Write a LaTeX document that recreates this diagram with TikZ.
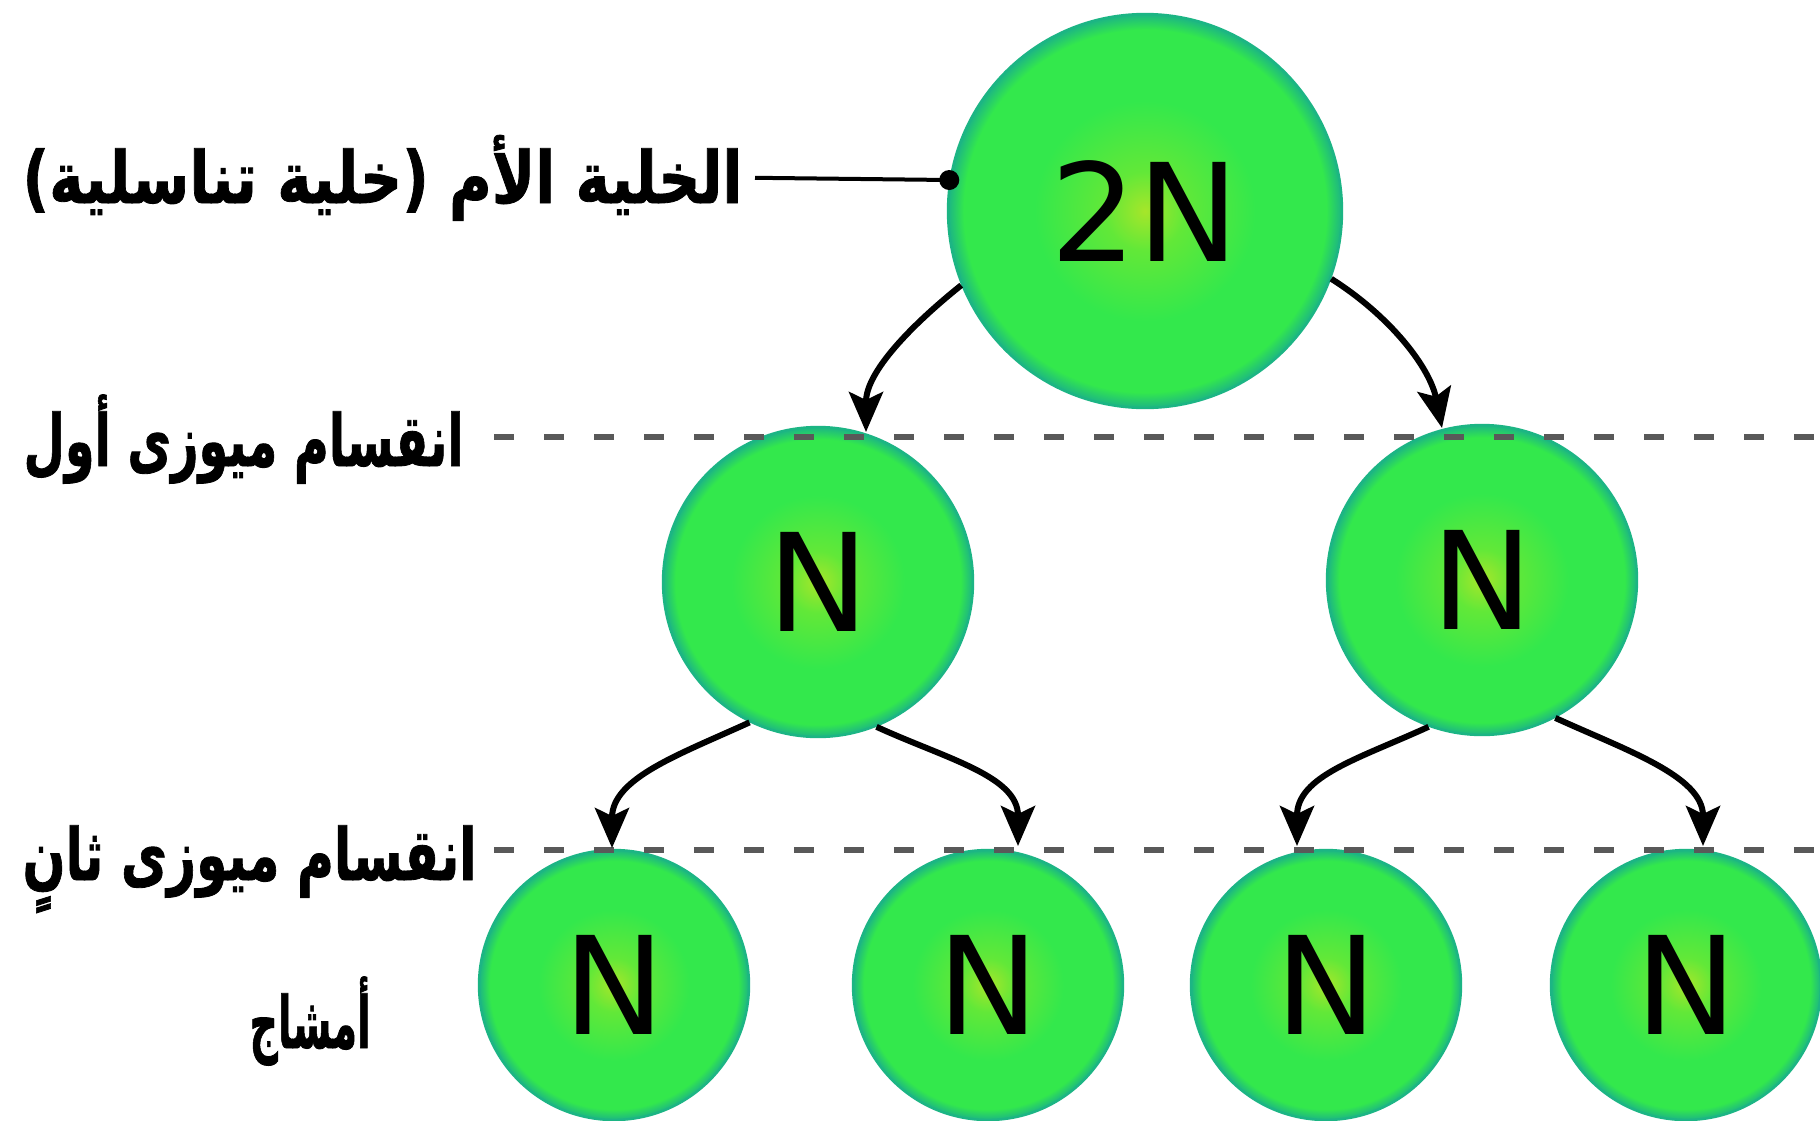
\documentclass[tikz,border=0pt]{standalone}
\usepackage{fontspec}
\usepackage{graphicx}
\usetikzlibrary{arrows.meta}
\TeXXeTstate=1
\newfontfamily\arfont[Script=Arabic, BoldFeatures={FakeBold=1.2}]{DejaVu Sans}
\newfontfamily\latfont{DejaVu Sans}
\definecolor{cin}{HTML}{A6E62A}
\definecolor{cmid}{HTML}{62E838}
\definecolor{cout}{HTML}{33E84C}
\definecolor{cedge}{HTML}{1CB584}
\pgfdeclareradialshading{cellshade}{\pgfpoint{0bp}{0bp}}{color(0bp)=(cin); color(5bp)=(cmid); color(14bp)=(cout); color(23bp)=(cout); color(25bp)=(cedge); color(50bp)=(cedge)}
\newcommand\arlabel[2]{\resizebox{#1}{\height}{\arfont\bfseries\fontsize{36}{40}\selectfont #2}}
\tikzset{
  cell/.style={circle, shading=cellshade, draw=cedge, line width=1.2pt, inner sep=0pt,
    font=\latfont\fontsize{68}{68}\selectfont, text=black},
  arr/.style={line width=3pt, -{Stealth[length=20pt,width=17pt,inset=4pt]}},
  dashline/.style={line width=3pt, black!65, dash pattern=on 10pt off 15pt},
  ptr/.style={line width=2pt},
  lbl/.style={inner sep=0pt, text=black}
}
\begin{document}
\begin{tikzpicture}[x=0.5pt,y=-0.5pt]
\useasboundingbox (0,0) rectangle (1820,1120);
\fill[white] (0,0) rectangle (1820,1120);
% cells
\node[cell, minimum size=197pt] (P) at (1145,211) {2N};
\node[cell, minimum size=155pt] (M1) at (818,582) {N};
\node[cell, minimum size=155pt] (M2) at (1482,580) {N};
\node[cell, minimum size=135pt] (G1) at (614,985) {N};
\node[cell, minimum size=135pt] (G2) at (988,985) {N};
\node[cell, minimum size=135pt] (G3) at (1326,985) {N};
\node[cell, minimum size=135pt] (G4) at (1686,985) {N};
% division lines
\draw[dashline] (494,437) -- (1820,437);
\draw[dashline] (494,850) -- (1820,850);
% arrow tips
\coordinate (t1) at (866,432);
\coordinate (t2) at (1442,428);
\coordinate (t3) at (612,848);
\coordinate (t4) at (1018,846);
\coordinate (t5) at (1297,846);
\coordinate (t6) at (1703,846);
\draw[arr] (P.202) .. controls +(-50,40) and +(0,-60) .. (t1);
\draw[arr] (P.-20) .. controls +(60,38) and +(-12,-60) .. (t2);
\draw[arr] (M1.-116) .. controls +(-70,32) and +(0,-70) .. (t3);
\draw[arr] (M1.-68) .. controls +(70,32) and +(0,-70) .. (t4);
\draw[arr] (M2.-110) .. controls +(-70,32) and +(0,-70) .. (t5);
\draw[arr] (M2.-62) .. controls +(70,32) and +(0,-70) .. (t6);
% labels
\node[lbl, anchor=base east] (L1) at (743,203) {\arlabel{360pt}{\beginR الخلية الأم (خلية تناسلية)\endR}};
\node[lbl, anchor=base east] (L2) at (464,466) {\arlabel{220pt}{\beginR انقسام ميوزى أول\endR}};
\node[lbl, anchor=base east] (L3) at (477,880) {\arlabel{227pt}{\beginR انقسام ميوزى ثانٍ\endR}};
\node[lbl, anchor=base east] (L4) at (371,1048) {\arlabel{60.5pt}{\beginR أمشاج\endR}};
\draw[ptr] ([xshift=6pt]L1.east) -- (P.171);
\fill (P.171) circle (5pt);
\end{tikzpicture}
\end{document}
